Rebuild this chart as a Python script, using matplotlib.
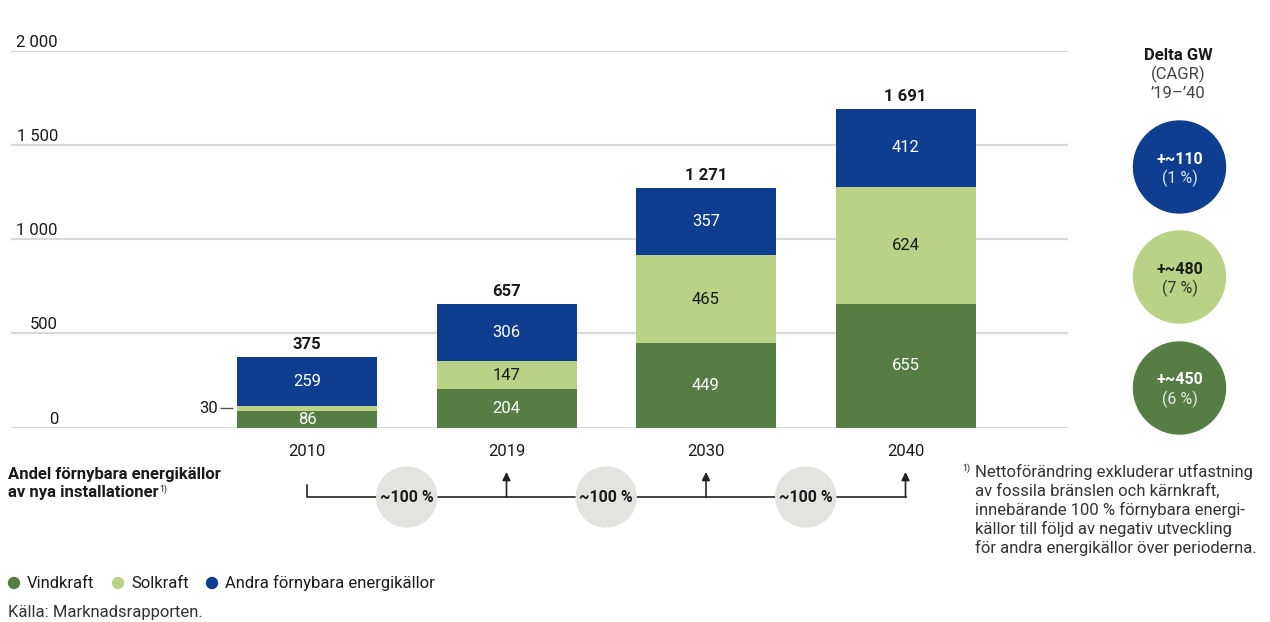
import matplotlib.pyplot as plt
from matplotlib.patches import Circle

plt.rcParams['font.family'] = ['Roboto', 'DejaVu Sans']

years = ["2010", "2019", "2030", "2040"]
vind = [86, 204, 449, 655]
sol = [30, 147, 465, 624]
andra = [259, 306, 357, 412]
totals = [375, 657, 1271, 1691]
yticks = [0, 500, 1000, 1500, 2000]
ytick_labels = ["0", "500", "1 000", "1 500", "2 000"]

delta_values = ["+~110", "+~480", "+~450"]
cagr_values = ["(1 %)", "(7 %)", "(6 %)"]
share_labels = ["~100 %", "~100 %", "~100 %"]

GREEN = "#567e44"
LIGHT = "#b9d285"
BLUE = "#0f3e91"
GRID = "#d9d9d9"
TXT = "#1a1a1a"
FS = 12

W, H = 1270, 622
fig = plt.figure(figsize=(W / 100, H / 100), dpi=100)

# main bar axes, placed in pixel terms
x0, x1 = 11, 1068
ytop, ybot = 50.7, 427.5
ax = fig.add_axes([x0 / W, (H - ybot) / H, (x1 - x0) / W, (ybot - ytop) / H])
step = 199.5
c0 = 307
ax.set_xlim((x0 - c0) / step, (x1 - c0) / step)
ax.set_ylim(0, 2000)
ax.axis("off")
ax.patch.set_alpha(0)

for t, lab in zip(yticks, ytick_labels):
    ax.axhline(t, color=GRID, lw=2.2 if t == 0 else 1.6, zorder=0)
    ax.annotate(lab, (0, t), xycoords=("axes fraction", "data"), xytext=(47, 1),
                textcoords="offset pixels", ha="right", va="bottom",
                fontsize=FS, color=TXT)

xs = list(range(len(years)))
bw = 140 / step
ax.bar(xs, vind, bw, color=GREEN, zorder=2)
ax.bar(xs, sol, bw, bottom=vind, color=LIGHT, zorder=2)
bottom3 = [v + s for v, s in zip(vind, sol)]
ax.bar(xs, andra, bw, bottom=bottom3, color=BLUE, zorder=2)

for i in xs:
    ax.text(i, vind[i] / 2, str(vind[i]), ha="center", va="center",
            color="white", fontsize=FS, zorder=3)
    if sol[i] > 60:
        ax.text(i, vind[i] + sol[i] / 2, str(sol[i]), ha="center", va="center",
                color=TXT, fontsize=FS, zorder=3)
    ax.text(i, bottom3[i] + andra[i] / 2, str(andra[i]), ha="center", va="center",
            color="white", fontsize=FS, zorder=3)
    ax.annotate(f"{totals[i]:,}".replace(",", " "), (i, totals[i]),
                xytext=(0, 5), textcoords="offset pixels", ha="center",
                va="bottom", fontsize=FS, fontweight="bold", color=TXT)

# small "30" label for the thin solar slice in 2010
ymid = vind[0] + sol[0] / 2
ax.annotate("30", (-bw / 2, ymid), xytext=(-19, 0),
            textcoords="offset pixels", ha="right", va="center",
            fontsize=FS, color=TXT)
ax.annotate("", (-bw / 2 - 4 / step, ymid), xytext=(-bw / 2 - 16 / step, ymid),
            arrowprops=dict(arrowstyle="-", color="#555555", lw=1,
                            shrinkA=0, shrinkB=0))

# overlay axes in pixel coordinates for the rest
ov = fig.add_axes([0, 0, 1, 1])
ov.set_xlim(0, W)
ov.set_ylim(H, 0)
ov.axis("off")
ov.patch.set_alpha(0)

centers = [c0 + step * i for i in xs]
for cx, y in zip(centers, years):
    ov.text(cx, 451, y, ha="center", va="center", fontsize=FS, color=TXT)

# flow line with arrows
ly = 497
ov.plot([centers[0], centers[0], centers[-1]], [485, ly, ly], color="#222222", lw=1.2)
for cx in centers[1:]:
    ov.annotate("", (cx, 472), xytext=(cx, ly),
                arrowprops=dict(arrowstyle="-|>", color="#222222", lw=1.2,
                                mutation_scale=12, shrinkA=0, shrinkB=0))
for i, lab in enumerate(share_labels):
    mx = (centers[i] + centers[i + 1]) / 2
    ov.add_patch(Circle((mx, ly), 30, color="#e3e3df", zorder=3))
    ov.text(mx, ly, lab, ha="center", va="center", fontsize=11.5,
            fontweight="bold", color=TXT, zorder=4)

ov.text(8, 474, "Andel förnybara energikällor", ha="left", va="center",
        fontsize=FS, fontweight="bold", color=TXT)
t2 = ov.text(8, 493, "av nya installationer", ha="left", va="center",
             fontsize=FS, fontweight="bold", color=TXT)
ov.annotate("1)", (1, 0.75), xycoords=t2, xytext=(1, 0), textcoords="offset pixels",
            ha="left", va="center", fontsize=6.5, color=TXT)

# footnote
ov.text(962, 468, "1)", ha="left", va="center", fontsize=6.5, color=TXT)
foot = ["Nettoförändring exkluderar utfastning",
        "av fossila bränslen och kärnkraft,",
        "innebärande 100 % förnybara energi-",
        "källor till följd av negativ utveckling",
        "för andra energikällor över perioderna."]
for k, line in enumerate(foot):
    ov.text(975, 472 + k * 19, line, ha="left", va="center",
            fontsize=FS, color="#333333")

# delta circles
ov.text(1178, 55, "Delta GW", ha="center", va="center", fontsize=FS,
        fontweight="bold", color=TXT)
ov.text(1178, 74, "(CAGR)", ha="center", va="center", fontsize=FS, color="#444444")
ov.text(1178, 93, "\u201919\u2013\u201940", ha="center", va="center", fontsize=FS,
        color="#444444")
circ_cols = [BLUE, LIGHT, GREEN]
circ_txt = ["white", TXT, "white"]
circ_y = [167, 277, 388]
for col, tc, cy, d, c in zip(circ_cols, circ_txt, circ_y, delta_values, cagr_values):
    ov.add_patch(Circle((1179.5, cy), 46, color=col))
    ov.text(1179.5, cy - 8, d, ha="center", va="center", fontsize=11.5,
            fontweight="bold", color=tc)
    ov.text(1179.5, cy + 11, c, ha="center", va="center", fontsize=11.5,
            color=tc, alpha=0.85)

# legend
leg = [("Vindkraft", GREEN, 14), ("Solkraft", LIGHT, 118), ("Andra förnybara energikällor", BLUE, 212)]
for name, col, lx in leg:
    ov.add_patch(Circle((lx, 583), 5.5, color=col))
    ov.text(lx + 13, 583, name, ha="left", va="center", fontsize=FS, color=TXT)

ov.text(8, 613, "Källa: Marknadsrapporten.", ha="left", va="center",
        fontsize=FS, color="#333333")

fig.savefig("out.png", dpi=100)
